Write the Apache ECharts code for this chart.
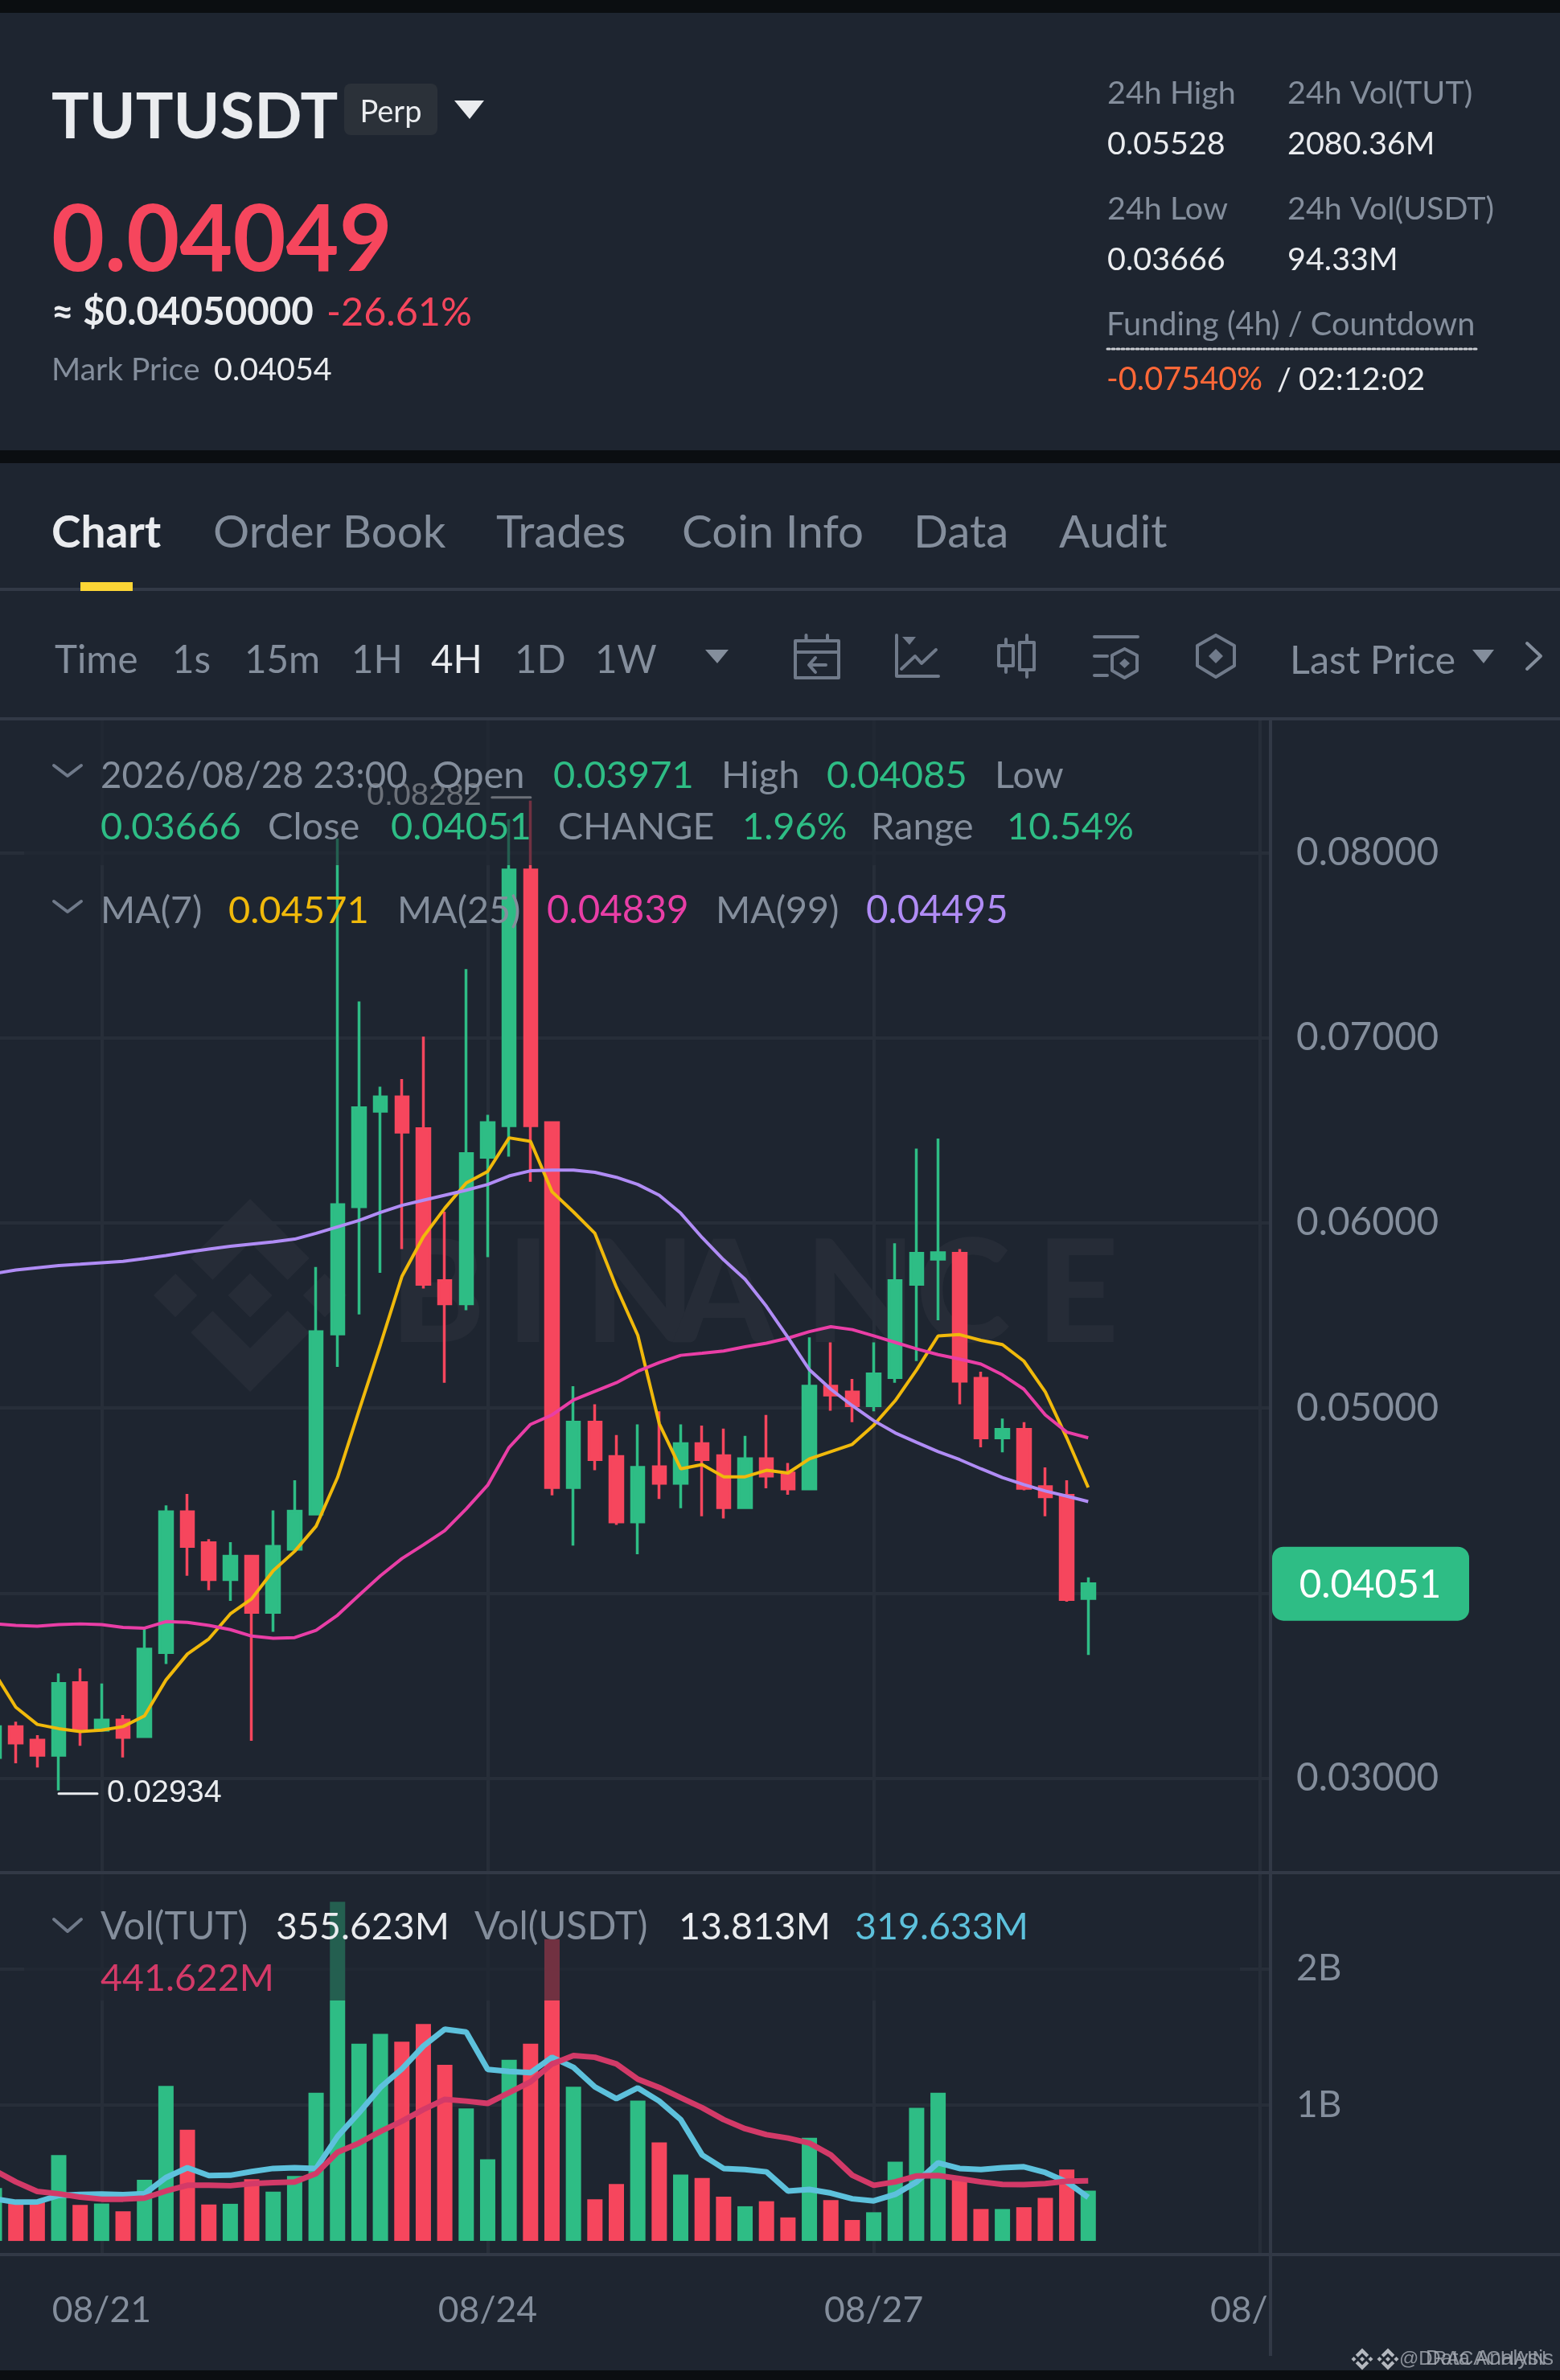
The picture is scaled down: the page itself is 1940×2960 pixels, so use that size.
<!DOCTYPE html>
<html><head><meta charset="utf-8">
<script src="https://cdn.jsdelivr.net/npm/echarts@6/dist/echarts.min.js"></script>
<style>html,body{margin:0;padding:0;background:#1e2530}#c{width:1940px;height:2960px}</style>
</head><body><div id="c"></div>
<script>
// ---- data ----
const openP  = [.03112,.03279,.03206,.03124,.03516,.0326,.03314,.03225,.03679,.04439,.04272,.04074,.04199,.03896,.04237,.04427,.05401,.06088,.06604,.06681,.0651,.05688,.05564,.06355,.06526,.07907,.06542,.04571,.04924,.04738,.04385,.04683,.04594,.04808,.04742,.04462,.04726,.04649,.04563,.05118,.05087,.05013,.05165,.05669,.05805,.05836,.05161,.04839,.04885,.04575,.04528,.03971];
const closeP = [.03279,.0319,.03124,.03512,.03268,.03314,.03221,.03698,.04439,.04253,.04074,.04199,.03896,.04253,.04443,.05413,.06099,.06623,.06681,.06491,.05669,.05564,.06375,.06542,.07907,.06526,.04571,.04924,.04722,.04385,.0468,.04594,.04808,.04722,.04462,.04726,.04633,.04563,.05118,.05071,.05013,.05184,.05688,.05836,.05839,.05145,.04839,.04885,.04567,.04521,.03966,.04051];
const lowP   = [.03093,.03081,.03058,.02934,.03175,.0326,.03112,.03221,.03617,.04094,.04016,.03958,.03202,.03791,.04237,.04427,.05223,.05506,.05731,.05859,.05646,.05137,.05529,.05816,.06359,.06223,.04528,.04257,.04664,.04369,.0421,.04509,.04459,.04416,.04404,.04462,.04567,.04532,.04563,.04986,.04924,.04982,.05137,.05254,.05475,.05021,.04788,.04761,.04556,.04416,.03954,.03666];
const highP  = [.03326,.03306,.03233,.03566,.03593,.03512,.03341,.03811,.04474,.04536,.04292,.04276,.04206,.04447,.0461,.05762,.08078,.07197,.06736,.06778,.07007,.06061,.07372,.06584,.08182,.08282,.06542,.05118,.05021,.04854,.04912,.04982,.04912,.04905,.04889,.0485,.04963,.04703,.05382,.05355,.05157,.05355,.0589,.06402,.06456,.05859,.05196,.04943,.04924,.0468,.0461,.04085];
const ma7    = [.0357,.03384,.03291,.03268,.03252,.0326,.03279,.03337,.03531,.03671,.03753,.03888,.0397,.04121,.04226,.04362,.04625,.04986,.05343,.05711,.05925,.0608,.06216,.06278,.0646,.06441,.06169,.0606,.05944,.05653,.05393,.04916,.04672,.04695,.04629,.04629,.04664,.04649,.04726,.04765,.04804,.04908,.0504,.05207,.0539,.05397,.05366,.05343,.05254,.05087,.04839,.04571];
const ma25   = [.03834,.03826,.03822,.0383,.03834,.0383,.03815,.03811,.03846,.03842,.03826,.03803,.03768,.03756,.0376,.03799,.03881,.03989,.04094,.04187,.04261,.04338,.04455,.04583,.04788,.04912,.04963,.05044,.05091,.05137,.05199,.05246,.05285,.05296,.05308,.05331,.05351,.05378,.05413,.0544,.05424,.0539,.05355,.0532,.05289,.05265,.05238,.0518,.05102,.04963,.0487,.04839];
const ma99   = [.05727,.05746,.05758,.0577,.05777,.05785,.05793,.05808,.05824,.05843,.05859,.05874,.05886,.05898,.05913,.05944,.05979,.06014,.06057,.06095,.06123,.0615,.06177,.06208,.06254,.06282,.06286,.06286,.06274,.06247,.06208,.0615,.06053,.05921,.05801,.05696,.05549,.05382,.05207,.05102,.05013,.04932,.04866,.04815,.04765,.04722,.04672,.04625,.04587,.04552,.04524,.04495];
const volume = [389,285,285,632,265,275,218,449,1140,818,268,273,454,362,478,1090,2493,1450,1522,1465,1594,1294,974,600,1331,1450,2218,1133,307,419,1031,724,488,463,325,255,292,173,758,300,154,211,582,979,1090,458,235,235,248,317,525,370];
const volMaA = [310,285,287,335,342,344,340,347,466,538,481,483,510,533,538,533,768,942,1128,1264,1432,1556,1536,1261,1246,1237,1350,1276,1132,1046,1125,1028,892,632,533,525,508,367,379,352,310,295,342,434,575,533,525,538,545,503,434,320];
const volMaB = [520,434,364,347,322,307,307,315,367,409,409,406,421,429,434,496,652,719,805,880,966,1041,1028,1011,1090,1170,1301,1363,1350,1301,1189,1128,1053,979,892,825,781,756,719,632,483,409,434,478,481,458,434,416,414,421,439,442];
const tickDays = ['08/21','08/24','08/27','08/30'];
const lastPrice = 0.04051;
const symbolText = 'TUTUSDT', perpText = 'Perp', priceText = '0.04049', usdText = '≈ $0.04050000', pctText = '-26.61%';
const markLabel = 'Mark Price', markValue = '0.04054';
const statLabels = ['24h High','24h Vol(TUT)','24h Low','24h Vol(USDT)'];
const statValues = ['0.05528','2080.36M','0.03666','94.33M'];
const fundingLabel = 'Funding (4h) / Countdown', fundingValue = '-0.07540%', countdown = '02:12:02';
const tabs = ['Chart','Order Book','Trades','Coin Info','Data','Audit'];
const intervals = ['Time','1s','15m','1H','4H','1D','1W'];
const lastPriceLabel = 'Last Price';
const watermarkLetters = ['B','I','N','A','N','C','E'];

// ---- colours ----
const UP='#2ebd85', DOWN='#f6465d', BG='#1e2530', GRID='#272e39', SEP='#323946', GREY='#848e9c', ICON='#707a8a', WHITE='#eaecef';
const FONT='Lato';

// categories: 4h bars counted back from the 08/21 00:00 bar, blanks run on to 08/30
const categories=[];
(function(){ let d=20,h=4; for(let i=0;i<60;i++){ categories.push('08/'+d+' '+String(h).padStart(2,'0')+':00'); h+=4; if(h===24){h=0;d++;} } })();
const isDayTick=(i,v)=>v.slice(6)==='00:00' && tickDays.indexOf(v.slice(0,5))>=0;

const candle=openP.map((o,i)=>[o,closeP[i],lowP[i],highP[i]]);
const volBars=volume.map((v,i)=>({value:v*1e6,itemStyle:{color:closeP[i]>=openP[i]?UP:DOWN}}));

const chart=echarts.init(document.getElementById('c'));
const xBase=(gi)=>({type:'category',gridIndex:gi,data:categories,boundaryGap:true,axisLine:{show:false},axisTick:{show:false},
  splitLine:{show:true,alignWithLabel:true,interval:isDayTick,lineStyle:{color:GRID,width:4}}});
chart.setOption({
  animation:false,backgroundColor:BG,
  grid:[{left:-20.33,width:1600.33,top:894,height:1435,outerBoundsMode:'none'},{left:-20.33,width:1600.33,top:2329,height:475,outerBoundsMode:'none'}],
  xAxis:[Object.assign(xBase(0),{axisLabel:{show:false}}),
         Object.assign(xBase(1),{axisLabel:{show:true,interval:isDayTick,margin:47,color:GREY,fontSize:44.5,fontFamily:FONT,formatter:v=>v.slice(0,5)}})],
  yAxis:[{type:'value',gridIndex:0,position:'right',scale:true,min:0.0249,max:0.08724,splitNumber:6,axisLine:{show:false},axisTick:{show:false},
      splitLine:{show:true,showMinLine:false,showMaxLine:false,lineStyle:{color:GRID,width:4}},
      axisLabel:{margin:32,color:GREY,fontSize:47.7,fontFamily:FONT,padding:[0,0,10,0],showMinLabel:false,showMaxLabel:false,formatter:v=>v.toFixed(5)}},
    {type:'value',gridIndex:1,position:'right',min:-1e8,max:2.707e9,splitNumber:3,axisLine:{show:false},axisTick:{show:false},
      splitLine:{show:true,showMinLine:false,showMaxLine:false,lineStyle:{color:['transparent',GRID,GRID],width:4}},
      axisLabel:{margin:32,color:GREY,fontSize:46,fontFamily:FONT,padding:[0,0,12,0],showMinLabel:false,showMaxLabel:false,formatter:v=>v>0?(v/1e9)+'B':''}}],
  series:[
    {name:'Price',type:'candlestick',xAxisIndex:0,yAxisIndex:0,data:candle,barWidth:16,
      itemStyle:{color:UP,color0:DOWN,borderColor:UP,borderColor0:DOWN,borderWidth:3.5}},
    {name:'MA(7)',type:'line',xAxisIndex:0,yAxisIndex:0,data:ma7,symbol:'none',lineStyle:{color:'#f0b90b',width:4},z:3},
    {name:'MA(25)',type:'line',xAxisIndex:0,yAxisIndex:0,data:ma25,symbol:'none',lineStyle:{color:'#e93ea6',width:4},z:3},
    {name:'MA(99)',type:'line',xAxisIndex:0,yAxisIndex:0,data:ma99,symbol:'none',lineStyle:{color:'#b08cf5',width:4},z:3},
    {name:'Vol',type:'bar',xAxisIndex:1,yAxisIndex:1,data:volBars,barWidth:19},
    {name:'Vol MA A',type:'line',xAxisIndex:1,yAxisIndex:1,data:volMaA.map(v=>v*1e6),symbol:'none',lineStyle:{color:'#5dc1dc',width:7},z:3},
    {name:'Vol MA B',type:'line',xAxisIndex:1,yAxisIndex:1,data:volMaB.map(v=>v*1e6),symbol:'none',lineStyle:{color:'#d33a68',width:7},z:4}
  ]
});

// ---- page furniture ----
const els=[];
const Z_BACK=-1,Z_COVER=40,Z_VEIL=50,Z_TEXT=60;
const txt=(s,x,y,size,fill,opt={})=>els.push({type:'text',z:opt.z||Z_TEXT,style:{text:s,x,y,fill,textAlign:opt.align||'left',textVerticalAlign:'middle',
  font:(opt.weight||'400')+' '+size+'px "'+(opt.family||FONT)+'", sans-serif',opacity:opt.opacity==null?1:opt.opacity}});
const rect=(x,y,w,h,fill,z=Z_TEXT,r=0)=>els.push({type:'rect',z,shape:{x,y,width:w,height:h,r},style:{fill}});
const poly=(pts,fill,z=Z_TEXT)=>els.push({type:'polygon',z,shape:{points:pts},style:{fill}});
const pl=(pts,stroke=ICON,w=4,z=Z_TEXT,dash)=>els.push({type:'polyline',z,shape:{points:pts},style:{stroke,lineWidth:w,fill:null,lineCap:'round',lineJoin:'round',lineDash:dash}});
const LOGO=[[[38.73,53.2],[63.3,28.63],[87.9,53.23],[102.2,38.92],[63.3,0],[24.42,38.88]],
 [[38.73,73.41],[63.3,97.98],[87.9,73.38],[102.22,87.67],[63.3,126.61],[24.42,87.72]],
 [[0,63.31],[14.3,49],[28.61,63.31],[14.3,77.61]],[[97.99,63.31],[112.29,49],[126.61,63.3],[112.3,77.62]],
 [[77.83,63.3],[63.3,48.78],[48.78,63.29],[63.3,77.81]]];
const logo=(cx,cy,size,fill,z)=>LOGO.forEach(p=>poly(p.map(q=>[cx+(q[0]-63.3)*size/126.6,cy+(q[1]-63.3)*size/126.6]),fill,z));

// black bands
rect(0,0,1940,16,'#0b0e11',Z_TEXT); rect(0,560,1940,16,'#0b0e11',Z_TEXT); rect(0,2948,1940,12,'#0b0e11',Z_TEXT);

// header
txt(symbolText,64,147,78,WHITE,{weight:'700'});
rect(428,104,116,64,'#2b3139',Z_TEXT,8);
txt(perpText,486,140,38,WHITE,{align:'center'});
poly([[565,125],[602,125],[584,148]],WHITE);
txt(priceText,64,300,114,DOWN,{weight:'700'});
txt(usdText,64,389,47.5,WHITE,{weight:'700'});
txt(pctText,406,389,48.5,DOWN,{weight:'400'});
txt(markLabel,64,460,39,GREY);
txt(markValue,266,460,39.5,WHITE);
[[1377,116,0,true],[1601,116,1,true],[1377,260,2,true],[1601,260,3,true]].forEach(a=>txt(statLabels[a[2]],a[0],a[1],39.5,GREY));
[[1377,179,0],[1601,179,1],[1377,323,2],[1601,323,3]].forEach(a=>txt(statValues[a[2]],a[0],a[1],39.5,WHITE));
txt(fundingLabel,1376,404,39.7,GREY);
pl([[1377,434],[1836,434]],'#c9ccd1',3,Z_TEXT,[3,3]);
txt(fundingValue,1376,472,39.7,'#ff6838');
txt('/',1588,472,39.5,WHITE);
txt(countdown,1615,472,39.5,WHITE);

// tabs
[64,265,617,848,1136,1317].forEach((x,i)=>txt(tabs[i],x,663,i===0?55:56.5,i===0?WHITE:GREY,{weight:i===0?'700':'400'}));
rect(0,731,1940,4,SEP);
rect(100,724,65,11,'#fcd535');

// interval row
[68,214,304,437,536,640,740].forEach((x,i)=>txt(intervals[i],x,822,47.5,intervals[i]==='4H'?WHITE:GREY));
poly([[877,808],[906,808],[892,825]],GREY);
txt(lastPriceLabel,1604,822,48.5,GREY);
poly([[1831,808],[1858,808],[1845,825]],GREY);
pl([[1899,800],[1916,816],[1899,832]],GREY,4);
rect(0,892,1940,4,SEP);

// toolbar icons
pl([[989,797],[1043,797],[1043,843],[989,843],[989,797]]); pl([[989,811],[1043,811]]);
pl([[1002.5,790],[1002.5,797]]); pl([[1029,790],[1029,797]]);
pl([[1027,827],[1007,827]]); pl([[1014,818],[1006,827],[1014,836]]);
pl([[1115,790],[1115,841],[1167,841]]); poly([[1122,792],[1139,792],[1131,802]],ICON);
pl([[1121,832],[1138,816],[1146,825],[1164,808]]);
pl([[1242,803],[1260,803],[1260,828],[1242,828],[1242,803]]); pl([[1251,795],[1251,803]]); pl([[1251,828],[1251,836]]);
pl([[1268,799],[1286,799],[1286,833],[1268,833],[1268,799]]); pl([[1277,790],[1277,799]]); pl([[1277,833],[1277,842]]);
pl([[1361,792],[1415,792]]); pl([[1361,816],[1377,816]]); pl([[1361,840],[1377,840]]);
pl([[1398.5,807],[1414,815],[1414,834],[1398.5,843],[1383,834],[1383,815],[1398.5,807]]);
poly([[1398.5,819],[1405,825],[1398.5,831],[1392,825]],ICON);
pl([[1512,790],[1535,803],[1535,828],[1512,842],[1489,828],[1489,803],[1512,790]]);
poly([[1512,807],[1521,816],[1512,825],[1503,816]],ICON);

// watermark
logo(311,1611,240,'#262c37',Z_BACK);
[485,630,727,838,1001,1139,1289].forEach((x,i)=>txt(watermarkLetters[i],x,1612,178,'#262c37',{weight:'900',z:Z_BACK}));

// panel separators and price axis line
rect(0,2327,1940,4,SEP,Z_COVER+1);
rect(0,2802,1940,4,SEP,Z_COVER+1);
rect(1582,2808,358,140,BG,Z_COVER);
rect(1578,894,4,2036,SEP,Z_COVER+1);

// legend veils
rect(30,896,1512,180,'rgba(30,37,48,0.62)',Z_VEIL);
rect(30,2331,1512,157,'rgba(30,37,48,0.62)',Z_VEIL);

// price legend
const leg=(s,x,y,fill,size=47)=>txt(s,x,y,size,fill);
pl([[67,952],[84,965],[101,952]]);
leg('2026/08/28 23:00',125,965,GREY,45.6); leg('Open',538,965,GREY); leg('0.03971',688,965,UP); leg('High',897,965,GREY); leg('0.04085',1028,965,UP); leg('Low',1237,965,GREY);
leg('0.03666',125,1029,UP); leg('Close',333,1029,GREY); leg('0.04051',486,1029,UP); leg('CHANGE',694,1029,GREY,46.5); leg('1.96%',923,1029,UP); leg('Range',1083,1029,GREY); leg('10.54%',1252,1029,UP);
pl([[67,1121],[84,1134],[101,1121]]);
leg('MA(7)',125,1133,GREY,46.5); leg('0.04571',284,1133,'#f0b90b'); leg('MA(25)',494,1133,GREY,46.5); leg('0.04839',680,1133,'#e93ea6',47.5); leg('MA(99)',890,1133,GREY,46.5); leg('0.04495',1077,1133,'#b08cf5',47.5);
// volume legend
pl([[67,2387],[84,2402],[101,2387]]);
leg('Vol(TUT)',125,2397,GREY,47.5); leg('355.623M',343,2397,WHITE,46.5); leg('Vol(USDT)',590,2397,GREY,47.5); leg('13.813M',844,2397,WHITE,46.5); leg('319.633M',1063,2397,'#5dc1dc',46.5);
leg('441.622M',125,2461,'#d33a68',46.5);

// attribution
logo(1694,2934,27,'#b4b8bf',Z_TEXT); logo(1726,2934,27,'#b4b8bf',Z_TEXT);
txt('@DRACACHAIN',1740,2934,24,'#a9aeb6',{family:'Liberation Sans',opacity:.8});
txt('Data Analysis',1932,2934,26,'#a9aeb6',{family:'Liberation Sans',opacity:.8,align:'right'});

// ---- annotations placed through the chart's own scales ----
const px=(i,v)=>chart.convertToPixel({xAxisIndex:0,yAxisIndex:0},[i,v]);
const hiI=highP.indexOf(Math.max.apply(null,highP)), loI=lowP.indexOf(Math.min.apply(null,lowP));
const hi=px(hiI,highP[hiI]), lo=px(loI,lowP[loI]), tag=px(closeP.length-1,lastPrice);
pl([[hi[0],hi[1]-4],[hi[0]-48,hi[1]-4]],'#eaecef',3,Z_COVER,[]);
txt(highP[hiI].toFixed(5),hi[0]-61,hi[1]-6,39.5,'#eaecef',{align:'right',family:'Liberation Sans',z:Z_COVER});
pl([[lo[0],lo[1]+4],[lo[0]+48,lo[1]+4]],'#eaecef',3,Z_COVER,[]);
txt(lowP[loI].toFixed(5),lo[0]+60,lo[1]+3,39.5,'#eaecef',{family:'Liberation Sans',z:Z_COVER});
rect(1582,tag[1]-46,245,92,UP,Z_COVER+2,14);
txt(lastPrice.toFixed(5),1704,tag[1]+2,47.5,'#ffffff',{align:'center',z:Z_COVER+3});
chart.setOption({graphic:{elements:els}});
</script></body></html>
